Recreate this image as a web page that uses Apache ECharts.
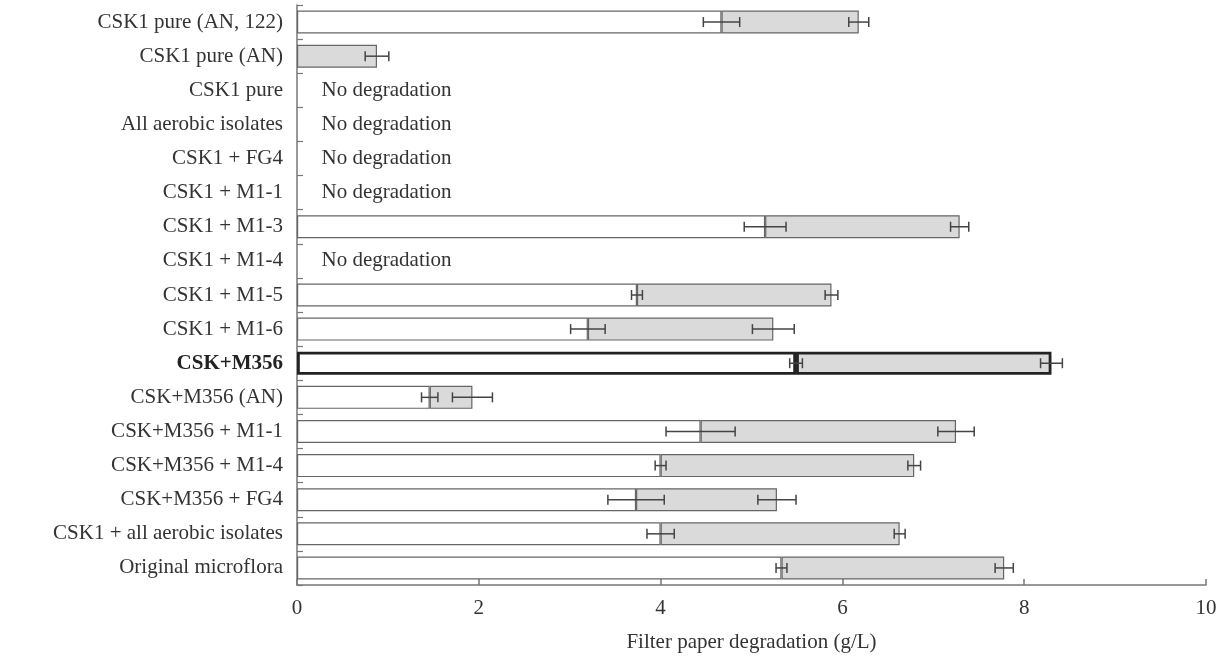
<!DOCTYPE html>
<html>
	<head>
		<meta charset="UTF-8">
		<title>Filter paper degradation</title>
		<script src="https://cdn.jsdelivr.net/npm/echarts@6/dist/echarts.min.js"></script>
		<style>
			html, body { margin: 0; padding: 0; background: #fff; }
		</style>
	</head>
	<body>
		<div id="main" style="width: 1225px;height:659px;"></div>
		<script type="text/javascript">

		var categories = ['CSK1 pure (AN, 122)', 'CSK1 pure (AN)', 'CSK1 pure', 'All aerobic isolates',
			'CSK1 + FG4', 'CSK1 + M1-1', 'CSK1 + M1-3', 'CSK1 + M1-4', 'CSK1 + M1-5', 'CSK1 + M1-6',
			'CSK+M356', 'CSK+M356 (AN)', 'CSK+M356 + M1-1', 'CSK+M356 + M1-4', 'CSK+M356 + FG4',
			'CSK1 + all aerobic isolates', 'Original microflora'];
		// where the grey part starts (white part ends), and its error
		var startVal = [4.67, 0, null, null, null, null, 5.15, null, 3.74, 3.20, 5.49, 1.46, 4.44, 4.00, 3.73, 4.00, 5.33];
		var startErr = [0.20, 0, null, null, null, null, 0.23, null, 0.06, 0.19, 0.07, 0.09, 0.38, 0.06, 0.31, 0.15, 0.06];
		// end of the bar, and its error
		var endVal = [6.18, 0.88, null, null, null, null, 7.29, null, 5.88, 5.24, 8.30, 1.93, 7.25, 6.79, 5.28, 6.63, 7.78];
		var endErr = [0.11, 0.13, null, null, null, null, 0.10, null, 0.07, 0.23, 0.12, 0.22, 0.20, 0.07, 0.21, 0.06, 0.10];
		var noDegradation = ['CSK1 pure', 'All aerobic isolates', 'CSK1 + FG4', 'CSK1 + M1-1', 'CSK1 + M1-4'];
		var highlight = 'CSK+M356';
		var xTicks = [0, 2, 4, 6, 8, 10];

		var FONT = "'Liberation Serif', 'Times New Roman', serif";

		var whiteData = [], greyData = [], errData = [], textData = [];
		for (var i = 0; i < categories.length; i++) {
			var hl = categories[i] == highlight;
			var bw = hl ? 2.8 : 1.2;
			var bc = hl ? '#222' : '#666';
			if (endVal[i] == null) {
				whiteData.push(null);
				greyData.push(null);
			} else {
				whiteData.push({ value: startVal[i], itemStyle: { borderWidth: startVal[i] > 0 ? bw : 0, borderColor: bc } });
				greyData.push({ value: +(endVal[i] - startVal[i]).toFixed(3), itemStyle: { borderWidth: bw, borderColor: bc } });
				if (startVal[i] > 0) errData.push([i, startVal[i], startErr[i]]);
				errData.push([i, endVal[i], endErr[i]]);
			}
		}
		for (var j = 0; j < noDegradation.length; j++) {
			textData.push([categories.indexOf(noDegradation[j]), 0.27]);
		}

		var myChart = echarts.init(document.getElementById('main'));
		var option = {
			animation: false,
			textStyle: { fontFamily: FONT },
			grid: { left: 297, right: 19, top: 5, bottom: 74 },
			xAxis: {
				type: 'value',
				min: 0, max: 10, interval: 2,
				name: 'Filter paper degradation (g/L)',
				nameLocation: 'middle',
				nameGap: 47,
				nameTextStyle: { fontFamily: FONT, fontSize: 21, color: '#333' },
				axisLine: { show: true, lineStyle: { color: '#777', width: 1.5 } },
				axisTick: { show: true, inside: true, length: 6, lineStyle: { color: '#777', width: 1.5 } },
				axisLabel: { fontFamily: FONT, fontSize: 21, color: '#333', margin: 13,
					customValues: xTicks },
				splitLine: { show: false }
			},
			yAxis: {
				type: 'category',
				inverse: true,
				data: categories,
				axisLine: { show: true, lineStyle: { color: '#777', width: 1.5 } },
				axisTick: { show: true, inside: true, length: 6, lineStyle: { color: '#777', width: 1.2 } },
				axisLabel: {
					fontFamily: FONT, fontSize: 21, color: '#333', margin: 14,
					formatter: function (v) { return v == highlight ? '{b|' + v + '}' : v; },
					rich: { b: { fontFamily: FONT, fontSize: 21, fontWeight: 'bold', color: '#222' } }
				}
			},
			series: [{
				name: 'white',
				type: 'bar',
				stack: 'a',
				barWidth: 23,
				itemStyle: { color: '#ffffff' },
				data: whiteData
			}, {
				name: 'grey',
				type: 'bar',
				stack: 'a',
				barWidth: 23,
				itemStyle: { color: '#dadada' },
				data: greyData
			}, {
				name: 'err',
				type: 'custom',
				encode: { x: 1, y: 0 },
				z: 5,
				renderItem: function (params, api) {
					var c = api.value(0), v = api.value(1), e = api.value(2);
					var p0 = api.coord([v - e, c]);
					var p1 = api.coord([v + e, c]);
					var h = 5;
					var st = { stroke: '#444', lineWidth: 1.5 };
					return {
						type: 'group',
						children: [
							{ type: 'line', shape: { x1: p0[0], y1: p0[1], x2: p1[0], y2: p1[1] }, style: st },
							{ type: 'line', shape: { x1: p0[0], y1: p0[1] - h, x2: p0[0], y2: p0[1] + h }, style: st },
							{ type: 'line', shape: { x1: p1[0], y1: p1[1] - h, x2: p1[0], y2: p1[1] + h }, style: st }
						]
					};
				},
				data: errData
			}, {
				name: 'nodeg',
				type: 'custom',
				encode: { x: 1, y: 0 },
				renderItem: function (params, api) {
					var p = api.coord([api.value(1), api.value(0)]);
					return {
						type: 'text',
						x: p[0], y: p[1],
						style: { text: 'No degradation', fill: '#333', fontFamily: FONT, fontSize: 21,
							verticalAlign: 'middle', align: 'left' }
					};
				},
				data: textData
			}]
		};
		myChart.setOption(option);
	</script>
	</body>
</html>
